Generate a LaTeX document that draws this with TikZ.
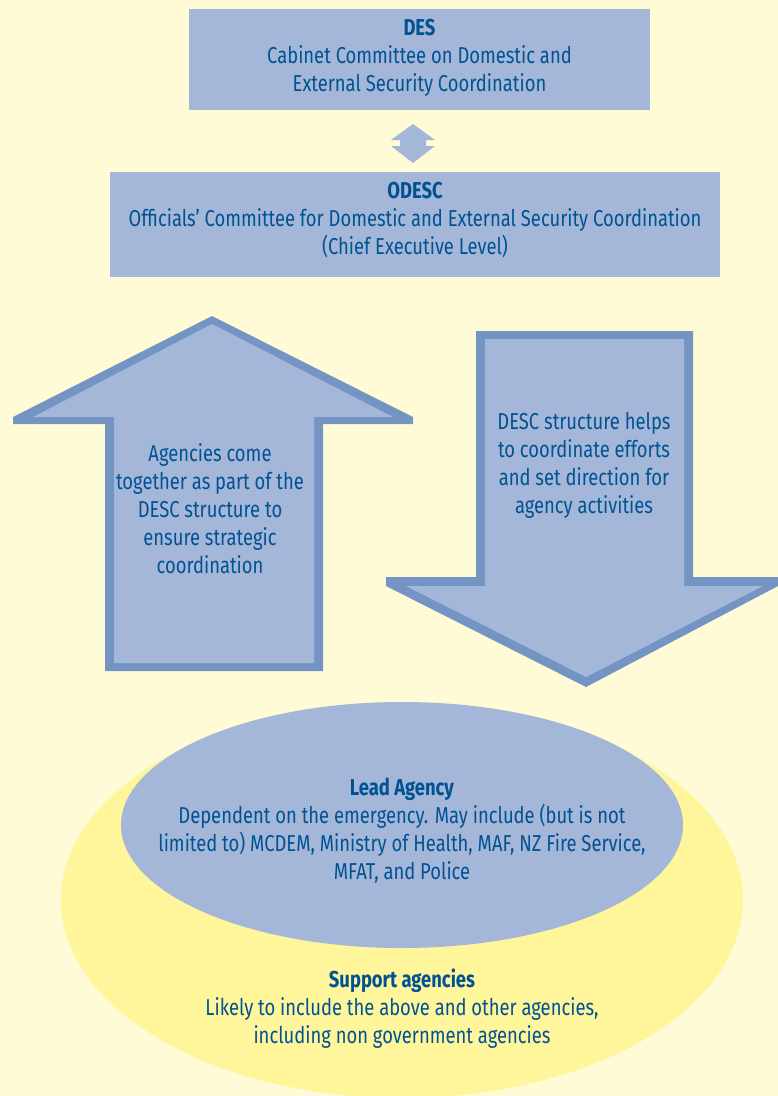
\documentclass[tikz,border=0pt]{standalone}
\usepackage{fontspec}
\setmainfont{Fira Sans}[FakeStretch=0.8]
\usetikzlibrary{positioning}

\definecolor{cream}{RGB}{255,251,214}
\definecolor{sun}{RGB}{255,246,155}
\definecolor{pale}{RGB}{164,183,216}
\definecolor{edge}{RGB}{116,149,196}
\definecolor{ink}{RGB}{0,82,147}

\begin{document}
\begin{tikzpicture}[x=1pt,y=-1pt,
    box/.style={fill=pale,inner sep=0pt},
    txt/.style={text=ink,align=center,font=\fontsize{23}{28}\selectfont}]
\useasboundingbox (0,0) rectangle (778,1096);
\fill[cream] (0,0) rectangle (778,1096);
% top boxes
\node[box,minimum width=461pt,minimum height=101pt] (des) at (419.5,59.5) {};
\node[box,minimum width=610pt,minimum height=105pt] (odesc) at (415,224.5) {};
\node[txt] (destext) at (419.5,58) {\textbf{DES}\\Cabinet Committee on Domestic and\\External Security Coordination};
\node[txt] (odesctext) at (415,220) {\textbf{ODESC}\\Officials’ Committee for Domestic and External Security Coordination\\(Chief Executive Level)};
% double arrow between them
\fill[pale] (413,124) -- (435,140) -- (426,140) -- (426,146) -- (435,146) -- (413,163)
    -- (391,146) -- (400,146) -- (400,140) -- (391,140) -- cycle;
% up arrow
\fill[edge] (212,316) -- (13,417) -- (13,424) -- (105,424) -- (105,671) -- (323,671)
    -- (323,424) -- (413,424) -- (413,417) -- cycle;
\fill[pale] (212,324) -- (33,417) -- (114,417) -- (114,663) -- (314,663)
    -- (314,417) -- (393,417) -- cycle;
\node[txt] (uptext) at (210,509) {Agencies come\\together as part of the\\DESC structure to\\ensure strategic\\coordination};
% down arrow
\fill[edge] (476,331) -- (693,331) -- (693,577) -- (778,577) -- (778,586) -- (586,687)
    -- (386,586) -- (386,577) -- (476,577) -- cycle;
\fill[pale] (485,339) -- (684,339) -- (684,586) -- (763,586) -- (586,677)
    -- (406,586) -- (485,586) -- cycle;
\node[txt] (downtext) at (584,465) {DESC structure helps\\to coordinate efforts\\and set direction for\\agency activities};
% agencies
\fill[sun] (402,900) ellipse [x radius=341, y radius=198];
\fill[pale] (402,825) ellipse [x radius=281, y radius=123];
\node[txt] (lead) at (402,831) {\textbf{Lead Agency}\\Dependent on the emergency. May include (but is not\\limited to) MCDEM, Ministry of Health, MAF, NZ Fire Service,\\MFAT, and Police};
\node[txt] (support) at (402,1009) {\textbf{Support agencies}\\Likely to include the above and other agencies,\\including non government agencies};
\end{tikzpicture}
\end{document}
